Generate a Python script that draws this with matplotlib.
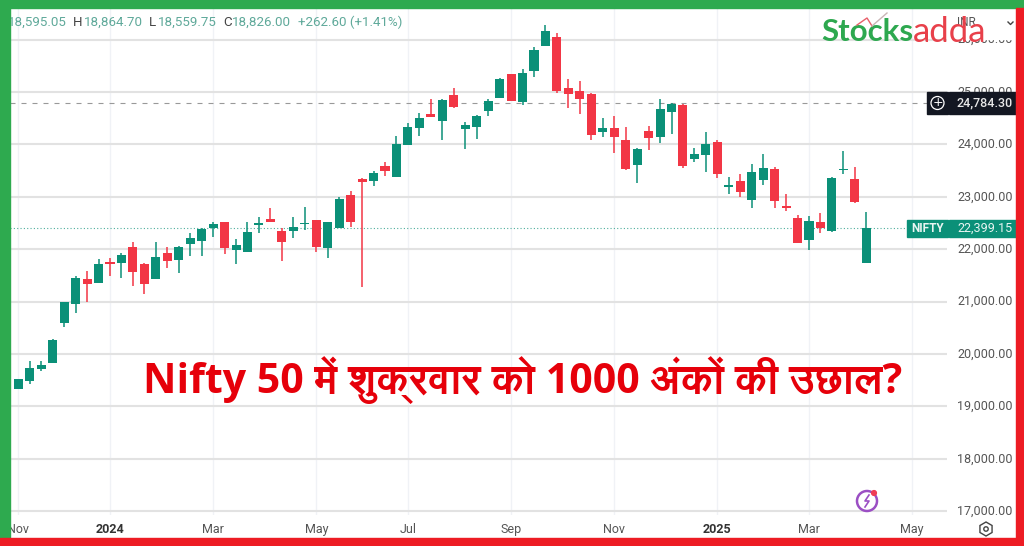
import numpy as np
import matplotlib
matplotlib.use('Agg')
import matplotlib.pyplot as plt
from matplotlib.patches import Rectangle, Circle, RegularPolygon
from matplotlib.transforms import ScaledTranslation
from matplotlib import font_manager

# weekly candles (first one sits behind the green border)
opens = [19027, 19339, 19479, 19714, 19835, 20592, 20948, 21432, 21362, 21744, 21744, 22049, 21712, 21425,
         21928, 21801, 22100, 22163, 22399, 22526, 21979, 21941, 22456, 22583, 22341, 22341, 22475, 22564,
         22017, 22398, 23035, 23340, 23308, 23582, 23378, 23989, 24320, 24587, 24447, 24943, 24300, 24326,
         24638, 24892, 25337, 24816, 25395, 25872, 26056, 25083, 25026, 24968, 24243, 24307, 24084, 23607,
         24250, 24148, 24625, 24752, 23728, 23792, 24053, 23194, 23296, 22939, 23315, 23537, 22812, 22602,
         22182, 22526, 22348, 23512, 23334, 21743]
highs = [19300, 19523, 19873, 19861, 20293, 20999, 21489, 21591, 21807, 21839, 21922, 22132, 21737, 22132,
         22049, 22062, 22303, 22411, 22526, 22526, 22189, 22526, 22621, 22780, 22411, 22621, 22799, 22564,
         22513, 23003, 23111, 23353, 23499, 23671, 24167, 24402, 24593, 24873, 24873, 25083, 24421, 24561,
         24860, 25261, 25344, 25433, 25853, 26272, 26132, 25242, 25216, 24981, 24510, 24549, 24326, 23932,
         24345, 24860, 24784, 24765, 23925, 24231, 24084, 23385, 23436, 23633, 23817, 23575, 23054, 22653,
         22634, 22685, 23385, 23874, 23575, 22704]
lows = [19000, 19326, 19422, 19676, 19822, 20510, 20777, 20986, 21349, 21495, 21457, 21298, 21139, 21425,
        21642, 21540, 21877, 21877, 22233, 21915, 21724, 21941, 22316, 22513, 21775, 22214, 22367, 21941,
        21839, 22398, 22430, 21285, 23213, 23404, 23378, 23989, 24161, 24517, 24084, 24701, 23906, 24103,
        24542, 24892, 24828, 24758, 25293, 25872, 24987, 24695, 24574, 24084, 24141, 23830, 23512, 23270,
        23887, 24033, 24199, 23556, 23664, 23474, 23353, 23048, 22990, 22793, 23226, 22793, 22736, 22112,
        21985, 22316, 22335, 23429, 22889, 21743]
closes = [19256, 19523, 19727, 19784, 20261, 20986, 21457, 21343, 21724, 21724, 21896, 21559, 21343, 21845,
          21782, 22049, 22208, 22392, 22488, 22017, 22087, 22322, 22500, 22513, 22138, 22424, 22488, 22036,
          22513, 22965, 22519, 23289, 23461, 23486, 24014, 24332, 24510, 24517, 24847, 24714, 24377, 24549,
          24828, 25242, 24835, 25363, 25802, 26171, 25013, 24956, 24860, 24186, 24307, 24148, 23524, 23919,
          24122, 24682, 24771, 23588, 23817, 24014, 23429, 23207, 23092, 23474, 23556, 22914, 22793, 22119,
          22545, 22399, 23353, 23525, 22895, 22399]
# colour as drawn: the doji candles are too small to tell open from close
is_green = [1, 1, 1, 1, 1, 1, 1, 0, 1, 0, 1, 0, 0, 1, 0, 1, 1, 1, 1, 0, 1, 1, 1, 0, 0, 1, 1, 0,
            1, 1, 0, 0, 1, 0, 1, 1, 1, 0, 1, 0, 1, 1, 1, 1, 0, 1, 1, 1, 0, 0, 0, 0, 1, 0, 0, 1,
            0, 1, 1, 0, 1, 1, 0, 1, 0, 1, 1, 0, 0, 0, 1, 0, 1, 1, 0, 1]

price_ticks = [17000, 18000, 19000, 20000, 21000, 22000, 23000, 24000, 25000, 26000]
month_pos = [0, 8, 17, 26, 34, 43, 52, 61, 69, 78]
month_names = ['Nov', '2024', 'Mar', 'May', 'Jul', 'Sep', 'Nov', '2025', 'Mar', 'May']
high_line = 24784.30
last_price = 22399.15

header = [('18,595.05', 67, 'right', 'val'), ('H', 73, 'left', 'key'), ('18,864.70', 84, 'left', 'val'),
          ('L', 149, 'left', 'key'), ('18,559.75', 158, 'left', 'val'), ('C', 223, 'left', 'key'),
          ('18,826.00', 232, 'left', 'val'), ('+262.60 (+1.41%)', 298, 'left', 'val')]

GREEN = '#0b9078'
RED = '#f23645'

names = {f.name for f in font_manager.fontManager.ttflist}
deva = [n for n in names if 'Devanagari' in n or n in ('Lohit Devanagari', 'Mangal', 'FreeSans')]
title_fonts = ['Open Sans'] + deva + ['Noto Sans', 'DejaVu Sans']

W, H = 1024, 546
fig = plt.figure(figsize=(W / 100, H / 100), dpi=100)
ax_l, ax_r, ax_t, ax_b = 10, 947, 8, 515
ax = fig.add_axes([ax_l / W, 1 - ax_b / H, (ax_r - ax_l) / W, (ax_b - ax_t) / H])

x = np.arange(-1, len(opens) - 1)
o, h, l, c = map(np.array, (opens, highs, lows, closes))
colors = [GREEN if g else RED for g in is_green]

ax.vlines(x, l, h, colors=colors, linewidth=1.1, zorder=3)
ax.bar(x, np.maximum(np.abs(c - o), 25), bottom=np.minimum(o, c), width=0.79, color=colors, zorder=4)

ax.set_xlim(-0.724, 81.04)
ax.set_ylim(16928, 26603)
ax.axhline(high_line, color='#999999', linewidth=0.8, linestyle=(0, (4.5, 5.4)), zorder=2)
ax.axhline(last_price, color='#4fae9c', linewidth=0.8, linestyle=(0, (1, 2)), zorder=2)

ax.yaxis.tick_right()
ax.set_yticks(price_ticks)
ax.set_yticklabels([f'{p:,.2f}' for p in price_ticks], fontfamily='Roboto', fontsize=9, color='#555555')
ax.set_xticks(month_pos)
ax.set_xticklabels(month_names, fontfamily='Roboto', fontsize=9, color='#555555')
for lab in ax.get_xticklabels():
    if lab.get_text().isdigit():
        lab.set_fontweight('bold')
        lab.set_color('#333333')
ax.tick_params(axis='y', length=0, pad=7.5)
ax.tick_params(axis='x', length=0, pad=6)
# price labels sit a little above their grid lines
up = ScaledTranslation(0, 1.5 / 100, fig.dpi_scale_trans)
for lab in ax.get_yticklabels():
    lab.set_transform(lab.get_transform() + up)
ax.grid(axis='y', color='#e2e2e2', linewidth=1.5, zorder=1)
ax.grid(axis='x', color='#f0f2f6', linewidth=1.0, zorder=1)
ax.set_axisbelow(True)
for s in ax.spines.values():
    s.set_visible(False)

# overlay in pixel units for the labels, logo and border
ov = fig.add_axes([0, 0, 1, 1], facecolor='none')
ov.set_xlim(0, W)
ov.set_ylim(H, 0)
ov.axis('off')

for txt, px, ha, kind in header:
    ov.text(px, 22, txt, ha=ha, va='center', fontfamily='Roboto', fontsize=9.6,
            color='#5fa99a' if kind == 'val' else '#444444', zorder=5)

# INR box hides most of the top price label
ov.add_patch(Rectangle((950, 10), 66, 29, color='white', zorder=5))
ov.text(957, 22, 'INR', va='center', fontfamily='Roboto', fontsize=8.5, color='#555555', zorder=6)
ov.plot([1008, 1010.5, 1013], [22, 24.5, 22], color='#444444', linewidth=1, zorder=6)

# price labels
ov.add_patch(Rectangle((927, 92), 21, 22, color='#131722', zorder=5))
ov.add_patch(Rectangle((949, 92), 67, 22, color='#131722', zorder=5))
ov.add_patch(Circle((937.5, 103), 6.5, fill=False, edgecolor='white', linewidth=0.9, zorder=6))
ov.text(937.5, 103, '+', ha='center', va='center', color='white', fontsize=9, zorder=6)
ov.text(984.5, 103, f'{high_line:,.2f}', ha='center', va='center', color='#e8e8e8',
        fontfamily='Roboto', fontsize=9, fontweight='medium', zorder=6)
ov.add_patch(Rectangle((907, 220), 41, 17, color=GREEN, zorder=5))
ov.add_patch(Rectangle((949, 220), 67, 17, color=GREEN, zorder=5))
ov.text(927.5, 228.5, 'NIFTY', ha='center', va='center', color='#e8f5f2', fontfamily='Roboto',
        fontsize=8.5, fontweight='bold', zorder=6)
ov.text(984.5, 228.5, f'{last_price:,.2f}', ha='center', va='center', color='#e8f5f2',
        fontfamily='Roboto', fontsize=9, zorder=6)

# logo
ov.text(821, 32, 'Stocks', va='center', color='#2da84f', fontfamily='Lato', fontsize=22.5, fontweight='bold', zorder=7)
ov.text(913, 32, 'adda', va='center', color='#e8404a', fontfamily='Lato', fontsize=25, zorder=7)
ov.plot([857, 867, 872], [25, 18, 26], color='#e8606a', linewidth=1, zorder=7)
ov.plot([872, 887], [26, 13], color='#c9b5b5', linewidth=1, zorder=7)

# title
ov.text(143, 380, 'Nifty 50 में शुक्रवार को 1000 अंकों की उछाल?', va='center', color='#e6000a',
        fontfamily=title_fonts, fontsize=29.6, fontweight='bold', zorder=7)

# small icons
ov.add_patch(Circle((867, 501), 10, fill=False, edgecolor='#9b4fc4', linewidth=1.8, zorder=6))
ov.plot([869, 865, 869, 865], [495, 501, 501, 507], color='#9b4fc4', linewidth=1.2, zorder=6)
ov.add_patch(Circle((874, 493), 2.4, color='#ef3d56', zorder=7))
ov.add_patch(RegularPolygon((986, 529), 6, radius=7, fill=False, edgecolor='#444444', linewidth=1, zorder=6))
ov.add_patch(Circle((986, 529), 2.2, fill=False, edgecolor='#444444', linewidth=1, zorder=6))

# border
ov.add_patch(Rectangle((0, 0), 10, H, color='#2eaa4f', zorder=8))
ov.add_patch(Rectangle((0, 0), W, 8, color='#2eaa4f', zorder=8))
ov.add_patch(Rectangle((1016, 8), 8, H, color='#ed1c24', zorder=8))
ov.add_patch(Rectangle((0, 538), W, 8, color='#ed1c24', zorder=8))

fig.savefig('out.png', dpi=100)
